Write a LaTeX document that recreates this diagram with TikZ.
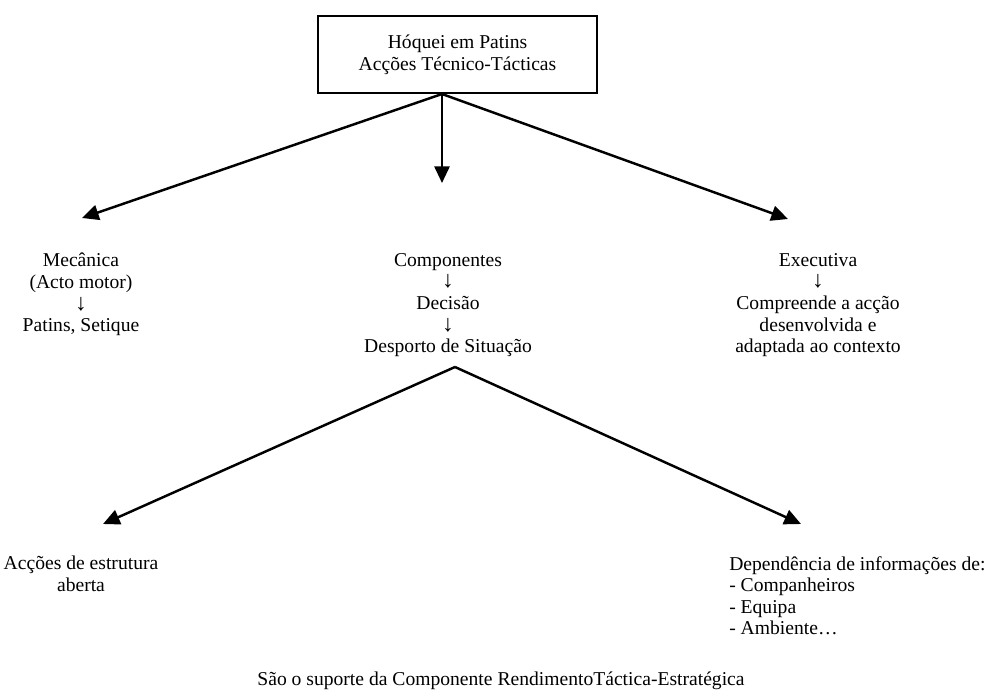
\documentclass[tikz,border=0pt]{standalone}
\usepackage{fontspec}
\setmainfont{Liberation Serif}
\usetikzlibrary{arrows.meta}
\newcommand{\seta}{{\fontsize{17.5}{16.2}\selectfont ↓}}
\begin{document}
\begin{tikzpicture}[x=0.75pt, y=-0.75pt,
	every node/.style={inner sep=0pt, align=center, font=\fontsize{14.7}{16.2}\selectfont},
	seta/.style={line width=0.65mm, -{Triangle[length=4.4mm, width=4mm]}}]
		\useasboundingbox (0,0) rectangle (1004,696);
		\node[draw, line width=0.45mm, minimum width=279*0.75pt, minimum height=77*0.75pt] (hoquei) at (457.5,54.5) [] {Hóquei em Patins\\Acções Técnico-Tácticas};
		\coordinate (topo) at (442,94);
		\coordinate (esq) at (82,218);
		\coordinate (meio) at (442,183);
		\coordinate (dir) at (788,219);
		\draw[seta] (topo) -- (esq);
		\draw[seta] (topo) -- (meio);
		\draw[seta] (topo) -- (dir);
		\node[anchor=north] (mecanica) at (81,253) [] {Mecânica\\(Acto motor)\\\seta\\Patins, Setique};
		\node[anchor=north] (componentes) at (448,253) [] {Componentes\\\seta\\Decisão\\\seta\\Desporto de Situação};
		\node[anchor=north] (executiva) at (818,253) [] {Executiva\\\seta\\Compreende a acção\\desenvolvida e\\adaptada ao contexto};
		\coordinate (vertice) at (455,367);
		\coordinate (baixoesq) at (103,524);
		\coordinate (baixodir) at (801,524);
		\draw[seta] (vertice) -- (baixoesq);
		\draw[seta] (vertice) -- (baixodir);
		\node[anchor=north] (abertas) at (81,556) [] {Acções de estrutura\\aberta};
		\node[anchor=north west, align=left] (dependencia) at (729,556) [] {Dependência de informações de:\\- Companheiros\\- Equipa\\- Ambiente\ldots};
		\node (suporte) at (501,681) [] {São o suporte da Componente RendimentoTáctica-Estratégica};
	\end{tikzpicture}
\end{document}
